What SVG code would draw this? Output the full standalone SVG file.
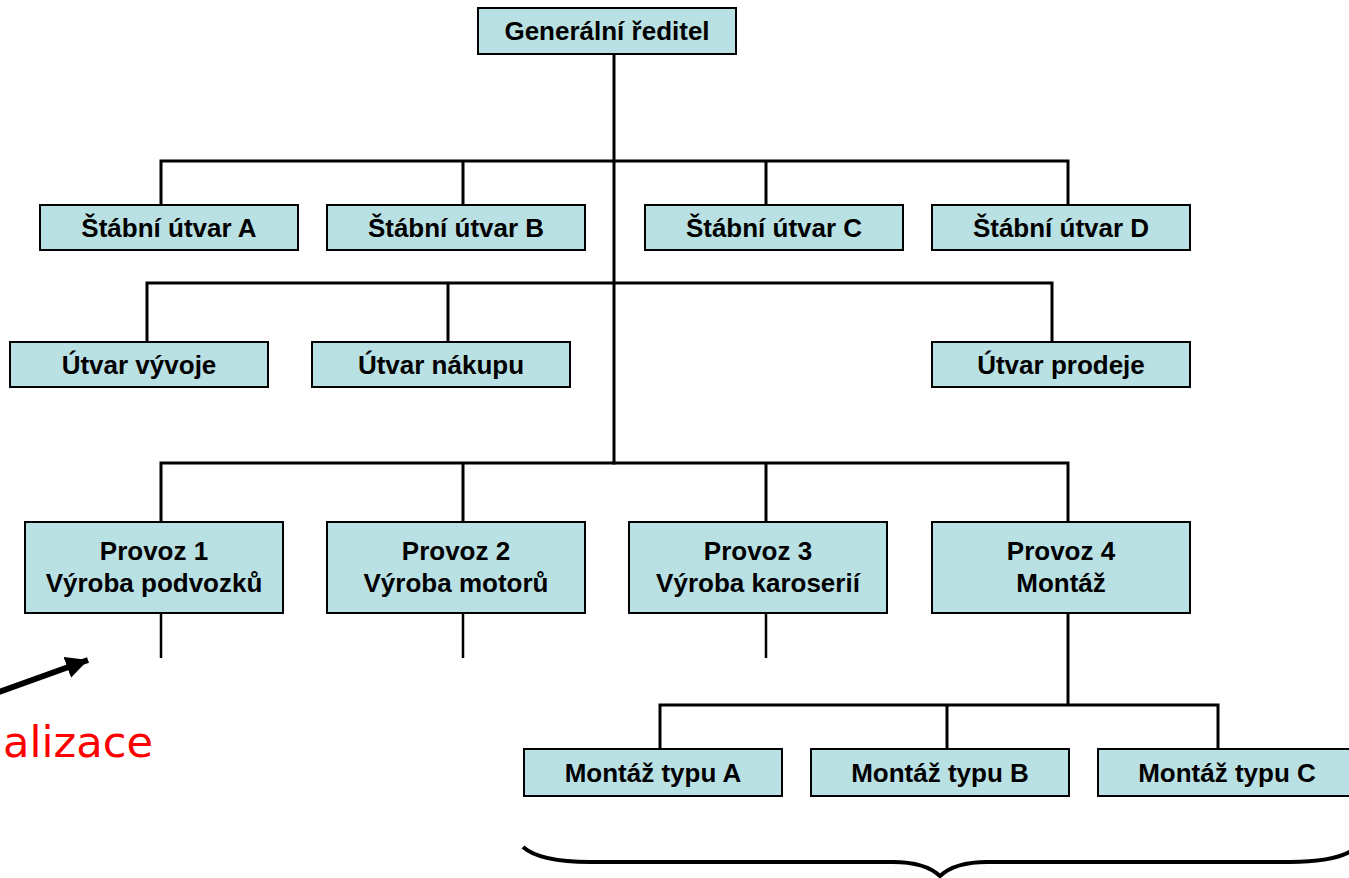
<svg xmlns="http://www.w3.org/2000/svg" width="1349" height="878" viewBox="0 0 1349 878">
<style>
.box{fill:#B9E0E3;stroke:#000;stroke-width:2}
.t{font-family:"Liberation Sans",Arial,sans-serif;font-weight:bold;font-size:26px;fill:#000;text-anchor:middle}
.c{fill:none;stroke:#000;stroke-width:3;stroke-linecap:square}
.s{fill:none;stroke:#000;stroke-width:2.5}
</style>
<defs>
<marker id="ah" markerUnits="userSpaceOnUse" markerWidth="26" markerHeight="24" refX="22" refY="11" orient="auto">
<path d="M0,0 L22,11 L0,22 Z" fill="#000"/>
</marker>
</defs>
<rect width="1349" height="878" fill="#fff"/>
<g id="connectors">
<path class="c" d="M614,55 V463"/>
<path class="c" d="M161,161 H1068 M161,161 V205 M463,161 V205 M766,161 V205 M1068,161 V205"/>
<path class="c" d="M147,283 H1052 M147,283 V342 M448,283 V342 M1052,283 V342"/>
<path class="c" d="M161,463 H1068 M161,463 V522 M463,463 V522 M766,463 V522 M1068,463 V522"/>
<path class="s" d="M161,613 V658 M463,613 V658 M766,613 V658"/>
<path class="c" d="M1068,613 V705 M660,705 H1218 M660,705 V749 M947,705 V749 M1218,705 V749"/>
</g>
<g id="n-gr"><rect class="box" x="478" y="8" width="258" height="46"/><text class="t" x="607" y="40">Generální ředitel</text></g>
<g id="n-sa"><rect class="box" x="40" y="205" width="258" height="45"/><text class="t" x="169" y="237">Štábní útvar A</text></g>
<g id="n-sb"><rect class="box" x="327" y="205" width="258" height="45"/><text class="t" x="456" y="237">Štábní útvar B</text></g>
<g id="n-sc"><rect class="box" x="645" y="205" width="258" height="45"/><text class="t" x="774" y="237">Štábní útvar C</text></g>
<g id="n-sd"><rect class="box" x="932" y="205" width="258" height="45"/><text class="t" x="1061" y="237">Štábní útvar D</text></g>
<g id="n-vyv"><rect class="box" x="10" y="342" width="258" height="45"/><text class="t" x="139" y="374">Útvar vývoje</text></g>
<g id="n-nak"><rect class="box" x="312" y="342" width="258" height="45"/><text class="t" x="441" y="374">Útvar nákupu</text></g>
<g id="n-pro"><rect class="box" x="932" y="342" width="258" height="45"/><text class="t" x="1061" y="374">Útvar prodeje</text></g>
<g id="n-p1"><rect class="box" x="25" y="522" width="258" height="91"/><text class="t" x="154" y="560">Provoz 1</text><text class="t" x="154" y="592">Výroba podvozků</text></g>
<g id="n-p2"><rect class="box" x="327" y="522" width="258" height="91"/><text class="t" x="456" y="560">Provoz 2</text><text class="t" x="456" y="592">Výroba motorů</text></g>
<g id="n-p3"><rect class="box" x="629" y="522" width="258" height="91"/><text class="t" x="758" y="560">Provoz 3</text><text class="t" x="758" y="592">Výroba karoserií</text></g>
<g id="n-p4"><rect class="box" x="932" y="522" width="258" height="91"/><text class="t" x="1061" y="560">Provoz 4</text><text class="t" x="1061" y="592">Montáž</text></g>
<g id="n-ma"><rect class="box" x="524" y="749" width="258" height="47"/><text class="t" x="653" y="782">Montáž typu A</text></g>
<g id="n-mb"><rect class="box" x="811" y="749" width="258" height="47"/><text class="t" x="940" y="782">Montáž typu B</text></g>
<g id="n-mc"><rect class="box" x="1098" y="749" width="258" height="47"/><text class="t" x="1227" y="782">Montáž typu C</text></g>
<g id="brace"><path d="M523,847 Q540,862 590,862 H893 Q925,862 940,876 Q955,862 987,862 H1290 Q1340,862 1357,847" fill="none" stroke="#000" stroke-width="4"/></g>
<g id="note">
<line x1="-4" y1="693" x2="88" y2="660" stroke="#000" stroke-width="6" marker-end="url(#ah)"/>
<text x="3" y="757" font-family="'DejaVu Sans',sans-serif" font-size="42" fill="#FF0000" textLength="150" lengthAdjust="spacingAndGlyphs">alizace</text>
</g>
</svg>
